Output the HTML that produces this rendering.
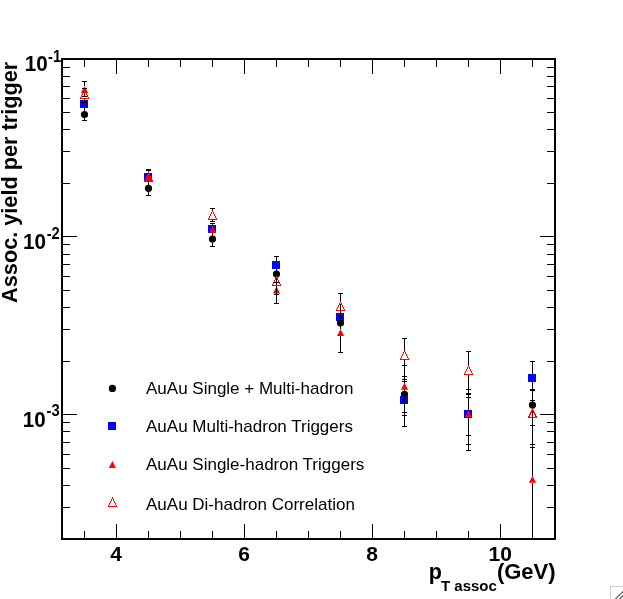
<!DOCTYPE html>
<html><head><meta charset="utf-8"><title>plot</title>
<style>html,body{margin:0;padding:0;background:#fff;}body{width:623px;height:599px;overflow:hidden;}svg{display:block;will-change:transform;opacity:0.999;}text{font-family:"Liberation Sans",sans-serif;fill:#000;}.b{font-weight:bold;}</style></head><body>
<svg width="623" height="599" viewBox="0 0 623 599">
<rect x="0" y="0" width="623" height="599" fill="#fff"/>
<g stroke="#000" stroke-width="1" shape-rendering="crispEdges" fill="none">
<line x1="84.5" y1="531" x2="84.5" y2="538"/>
<line x1="84.5" y1="60" x2="84.5" y2="67"/>
<line x1="116.5" y1="524" x2="116.5" y2="538"/>
<line x1="116.5" y1="60" x2="116.5" y2="74"/>
<line x1="148.5" y1="531" x2="148.5" y2="538"/>
<line x1="148.5" y1="60" x2="148.5" y2="67"/>
<line x1="180.5" y1="531" x2="180.5" y2="538"/>
<line x1="180.5" y1="60" x2="180.5" y2="67"/>
<line x1="212.5" y1="531" x2="212.5" y2="538"/>
<line x1="212.5" y1="60" x2="212.5" y2="67"/>
<line x1="244.5" y1="524" x2="244.5" y2="538"/>
<line x1="244.5" y1="60" x2="244.5" y2="74"/>
<line x1="276.5" y1="531" x2="276.5" y2="538"/>
<line x1="276.5" y1="60" x2="276.5" y2="67"/>
<line x1="308.5" y1="531" x2="308.5" y2="538"/>
<line x1="308.5" y1="60" x2="308.5" y2="67"/>
<line x1="340.5" y1="531" x2="340.5" y2="538"/>
<line x1="340.5" y1="60" x2="340.5" y2="67"/>
<line x1="372.5" y1="524" x2="372.5" y2="538"/>
<line x1="372.5" y1="60" x2="372.5" y2="74"/>
<line x1="404.5" y1="531" x2="404.5" y2="538"/>
<line x1="404.5" y1="60" x2="404.5" y2="67"/>
<line x1="436.5" y1="531" x2="436.5" y2="538"/>
<line x1="436.5" y1="60" x2="436.5" y2="67"/>
<line x1="468.5" y1="531" x2="468.5" y2="538"/>
<line x1="468.5" y1="60" x2="468.5" y2="67"/>
<line x1="500.5" y1="524" x2="500.5" y2="538"/>
<line x1="500.5" y1="60" x2="500.5" y2="74"/>
<line x1="532.5" y1="531" x2="532.5" y2="538"/>
<line x1="532.5" y1="60" x2="532.5" y2="67"/>
<line x1="63" y1="507.5" x2="70" y2="507.5"/>
<line x1="547" y1="507.5" x2="554" y2="507.5"/>
<line x1="63" y1="485.5" x2="70" y2="485.5"/>
<line x1="547" y1="485.5" x2="554" y2="485.5"/>
<line x1="63" y1="468.5" x2="70" y2="468.5"/>
<line x1="547" y1="468.5" x2="554" y2="468.5"/>
<line x1="63" y1="454.5" x2="70" y2="454.5"/>
<line x1="547" y1="454.5" x2="554" y2="454.5"/>
<line x1="63" y1="442.5" x2="70" y2="442.5"/>
<line x1="547" y1="442.5" x2="554" y2="442.5"/>
<line x1="63" y1="431.5" x2="70" y2="431.5"/>
<line x1="547" y1="431.5" x2="554" y2="431.5"/>
<line x1="63" y1="422.5" x2="70" y2="422.5"/>
<line x1="547" y1="422.5" x2="554" y2="422.5"/>
<line x1="63" y1="414.5" x2="77" y2="414.5"/>
<line x1="540" y1="414.5" x2="554" y2="414.5"/>
<line x1="63" y1="361.5" x2="70" y2="361.5"/>
<line x1="547" y1="361.5" x2="554" y2="361.5"/>
<line x1="63" y1="329.5" x2="70" y2="329.5"/>
<line x1="547" y1="329.5" x2="554" y2="329.5"/>
<line x1="63" y1="307.5" x2="70" y2="307.5"/>
<line x1="547" y1="307.5" x2="554" y2="307.5"/>
<line x1="63" y1="290.5" x2="70" y2="290.5"/>
<line x1="547" y1="290.5" x2="554" y2="290.5"/>
<line x1="63" y1="276.5" x2="70" y2="276.5"/>
<line x1="547" y1="276.5" x2="554" y2="276.5"/>
<line x1="63" y1="264.5" x2="70" y2="264.5"/>
<line x1="547" y1="264.5" x2="554" y2="264.5"/>
<line x1="63" y1="254.5" x2="70" y2="254.5"/>
<line x1="547" y1="254.5" x2="554" y2="254.5"/>
<line x1="63" y1="244.5" x2="70" y2="244.5"/>
<line x1="547" y1="244.5" x2="554" y2="244.5"/>
<line x1="63" y1="236.5" x2="77" y2="236.5"/>
<line x1="540" y1="236.5" x2="554" y2="236.5"/>
<line x1="63" y1="183.5" x2="70" y2="183.5"/>
<line x1="547" y1="183.5" x2="554" y2="183.5"/>
<line x1="63" y1="151.5" x2="70" y2="151.5"/>
<line x1="547" y1="151.5" x2="554" y2="151.5"/>
<line x1="63" y1="129.5" x2="70" y2="129.5"/>
<line x1="547" y1="129.5" x2="554" y2="129.5"/>
<line x1="63" y1="112.5" x2="70" y2="112.5"/>
<line x1="547" y1="112.5" x2="554" y2="112.5"/>
<line x1="63" y1="98.5" x2="70" y2="98.5"/>
<line x1="547" y1="98.5" x2="554" y2="98.5"/>
<line x1="63" y1="86.5" x2="70" y2="86.5"/>
<line x1="547" y1="86.5" x2="554" y2="86.5"/>
<line x1="63" y1="76.5" x2="70" y2="76.5"/>
<line x1="547" y1="76.5" x2="554" y2="76.5"/>
<line x1="63" y1="67.5" x2="70" y2="67.5"/>
<line x1="547" y1="67.5" x2="554" y2="67.5"/>
</g>
<rect x="62" y="59" width="493" height="480" fill="none" stroke="#000" stroke-width="2" shape-rendering="crispEdges"/>
<g stroke="#000" stroke-width="1" shape-rendering="crispEdges">
<line x1="84.5" y1="107.5" x2="84.5" y2="110.9"/>
<line x1="82" y1="107.5" x2="87" y2="107.5"/>
<line x1="84.5" y1="118.1" x2="84.5" y2="120.5"/>
<line x1="82" y1="120.5" x2="87" y2="120.5"/>
</g>
<circle cx="84.5" cy="114.5" r="3.6" fill="#000"/>
<g stroke="#000" stroke-width="1" shape-rendering="crispEdges">
<line x1="148.5" y1="181.5" x2="148.5" y2="184.7"/>
<line x1="146" y1="181.5" x2="151" y2="181.5"/>
<line x1="148.5" y1="191.9" x2="148.5" y2="195.5"/>
<line x1="146" y1="195.5" x2="151" y2="195.5"/>
</g>
<circle cx="148.5" cy="188.3" r="3.6" fill="#000"/>
<g stroke="#000" stroke-width="1" shape-rendering="crispEdges">
<line x1="212.5" y1="232.5" x2="212.5" y2="235.5"/>
<line x1="210" y1="232.5" x2="215" y2="232.5"/>
<line x1="212.5" y1="242.7" x2="212.5" y2="246.5"/>
<line x1="210" y1="246.5" x2="215" y2="246.5"/>
</g>
<circle cx="212.5" cy="239.1" r="3.6" fill="#000"/>
<g stroke="#000" stroke-width="1" shape-rendering="crispEdges">
<line x1="276.5" y1="268.5" x2="276.5" y2="270.5"/>
<line x1="274" y1="268.5" x2="279" y2="268.5"/>
<line x1="276.5" y1="277.7" x2="276.5" y2="282.5"/>
<line x1="274" y1="282.5" x2="279" y2="282.5"/>
</g>
<circle cx="276.5" cy="274.1" r="3.6" fill="#000"/>
<g stroke="#000" stroke-width="1" shape-rendering="crispEdges">
</g>
<circle cx="340.5" cy="323" r="3.6" fill="#000"/>
<g stroke="#000" stroke-width="1" shape-rendering="crispEdges">
<line x1="404.5" y1="379.5" x2="404.5" y2="390.7"/>
<line x1="402" y1="379.5" x2="407" y2="379.5"/>
<line x1="404.5" y1="397.9" x2="404.5" y2="412.5"/>
<line x1="402" y1="412.5" x2="407" y2="412.5"/>
</g>
<circle cx="404.5" cy="394.3" r="3.6" fill="#000"/>
<g stroke="#000" stroke-width="1" shape-rendering="crispEdges">
<line x1="468.5" y1="397.5" x2="468.5" y2="410.4"/>
<line x1="466" y1="397.5" x2="471" y2="397.5"/>
<line x1="468.5" y1="417.6" x2="468.5" y2="435.5"/>
<line x1="466" y1="435.5" x2="471" y2="435.5"/>
</g>
<circle cx="468.5" cy="414" r="3.6" fill="#000"/>
<g stroke="#000" stroke-width="1" shape-rendering="crispEdges">
<line x1="532.5" y1="390.5" x2="532.5" y2="401.5"/>
<line x1="530" y1="390.5" x2="535" y2="390.5"/>
<line x1="532.5" y1="408.7" x2="532.5" y2="425.5"/>
<line x1="530" y1="425.5" x2="535" y2="425.5"/>
</g>
<circle cx="532.5" cy="405.1" r="3.6" fill="#000"/>
<g stroke="#000" stroke-width="1" shape-rendering="crispEdges">
<line x1="84.5" y1="98.5" x2="84.5" y2="100"/>
<line x1="82" y1="98.5" x2="87" y2="98.5"/>
</g>
<rect x="80" y="100" width="8" height="8" fill="#0000ff" shape-rendering="crispEdges"/>
<g stroke="#000" stroke-width="1" shape-rendering="crispEdges">
<line x1="148.5" y1="170.5" x2="148.5" y2="173"/>
<line x1="146" y1="170.5" x2="151" y2="170.5"/>
</g>
<rect x="144" y="173" width="8" height="8" fill="#0000ff" shape-rendering="crispEdges"/>
<g stroke="#000" stroke-width="1" shape-rendering="crispEdges">
<line x1="212.5" y1="223.5" x2="212.5" y2="225"/>
<line x1="210" y1="223.5" x2="215" y2="223.5"/>
</g>
<rect x="208" y="225" width="8" height="8" fill="#0000ff" shape-rendering="crispEdges"/>
<g stroke="#000" stroke-width="1" shape-rendering="crispEdges">
<line x1="276.5" y1="256.5" x2="276.5" y2="261"/>
<line x1="274" y1="256.5" x2="279" y2="256.5"/>
</g>
<rect x="272" y="261" width="8" height="8" fill="#0000ff" shape-rendering="crispEdges"/>
<g stroke="#000" stroke-width="1" shape-rendering="crispEdges">
<line x1="340.5" y1="303.5" x2="340.5" y2="313"/>
</g>
<rect x="336" y="313" width="8" height="8" fill="#0000ff" shape-rendering="crispEdges"/>
<g stroke="#000" stroke-width="1" shape-rendering="crispEdges">
<line x1="404.5" y1="381.5" x2="404.5" y2="395.7"/>
<line x1="402" y1="381.5" x2="407" y2="381.5"/>
<line x1="404.5" y1="403.7" x2="404.5" y2="426.5"/>
<line x1="402" y1="426.5" x2="407" y2="426.5"/>
</g>
<rect x="400" y="396" width="8" height="8" fill="#0000ff" shape-rendering="crispEdges"/>
<g stroke="#000" stroke-width="1" shape-rendering="crispEdges">
<line x1="468.5" y1="393.5" x2="468.5" y2="409.7"/>
<line x1="466" y1="393.5" x2="471" y2="393.5"/>
<line x1="468.5" y1="417.7" x2="468.5" y2="444.5"/>
<line x1="466" y1="444.5" x2="471" y2="444.5"/>
</g>
<rect x="464" y="410" width="8" height="8" fill="#0000ff" shape-rendering="crispEdges"/>
<g stroke="#000" stroke-width="1" shape-rendering="crispEdges">
<line x1="532.5" y1="361.5" x2="532.5" y2="374"/>
<line x1="530" y1="361.5" x2="535" y2="361.5"/>
<line x1="532.5" y1="382" x2="532.5" y2="400.5"/>
<line x1="530" y1="400.5" x2="535" y2="400.5"/>
</g>
<rect x="528" y="374" width="8" height="8" fill="#0000ff" shape-rendering="crispEdges"/>
<g stroke="#000" stroke-width="1" shape-rendering="crispEdges">
<line x1="84.5" y1="81.5" x2="84.5" y2="86.2"/>
<line x1="82" y1="81.5" x2="87" y2="81.5"/>
<line x1="84.5" y1="92.8" x2="84.5" y2="96.5"/>
<line x1="82" y1="96.5" x2="87" y2="96.5"/>
</g>
<path d="M80.9 92.9 L88.1 92.9 L84.5 85.9 Z" fill="#ff0000"/>
<g stroke="#000" stroke-width="1" shape-rendering="crispEdges">
<line x1="148.5" y1="169.5" x2="148.5" y2="174"/>
<line x1="146" y1="169.5" x2="151" y2="169.5"/>
</g>
<path d="M144.9 180.7 L152.1 180.7 L148.5 173.7 Z" fill="#ff0000"/>
<g stroke="#000" stroke-width="1" shape-rendering="crispEdges">
<line x1="212.5" y1="223.5" x2="212.5" y2="226"/>
<line x1="210" y1="223.5" x2="215" y2="223.5"/>
</g>
<path d="M208.9 232.7 L216.1 232.7 L212.5 225.7 Z" fill="#ff0000"/>
<g stroke="#000" stroke-width="1" shape-rendering="crispEdges">
<line x1="276.5" y1="282.5" x2="276.5" y2="286.7"/>
<line x1="274" y1="282.5" x2="279" y2="282.5"/>
<line x1="276.5" y1="293.3" x2="276.5" y2="294.5"/>
<line x1="274" y1="294.5" x2="279" y2="294.5"/>
</g>
<path d="M272.9 293.4 L280.1 293.4 L276.5 286.4 Z" fill="#ff0000"/>
<g stroke="#000" stroke-width="1" shape-rendering="crispEdges">
<line x1="340.5" y1="317.5" x2="340.5" y2="329.3"/>
<line x1="338" y1="317.5" x2="343" y2="317.5"/>
<line x1="340.5" y1="335.9" x2="340.5" y2="352.5"/>
<line x1="338" y1="352.5" x2="343" y2="352.5"/>
</g>
<path d="M336.9 336 L344.1 336 L340.5 329 Z" fill="#ff0000"/>
<g stroke="#000" stroke-width="1" shape-rendering="crispEdges">
<line x1="404.5" y1="365.5" x2="404.5" y2="383.1"/>
<line x1="402" y1="365.5" x2="407" y2="365.5"/>
<line x1="404.5" y1="389.7" x2="404.5" y2="415.5"/>
<line x1="402" y1="415.5" x2="407" y2="415.5"/>
</g>
<path d="M400.9 389.8 L408.1 389.8 L404.5 382.8 Z" fill="#ff0000"/>
<g stroke="#000" stroke-width="1" shape-rendering="crispEdges">
<line x1="468.5" y1="389.5" x2="468.5" y2="410.2"/>
<line x1="466" y1="389.5" x2="471" y2="389.5"/>
<line x1="468.5" y1="416.8" x2="468.5" y2="450.5"/>
<line x1="466" y1="450.5" x2="471" y2="450.5"/>
</g>
<path d="M464.9 416.9 L472.1 416.9 L468.5 409.9 Z" fill="#ff0000"/>
<g stroke="#000" stroke-width="1" shape-rendering="crispEdges">
<line x1="532.5" y1="444.5" x2="532.5" y2="476.1"/>
<line x1="530" y1="444.5" x2="535" y2="444.5"/>
<line x1="532.5" y1="482.7" x2="532.5" y2="538.5"/>
</g>
<path d="M528.9 482.8 L536.1 482.8 L532.5 475.8 Z" fill="#ff0000"/>
<g stroke="#000" stroke-width="1" shape-rendering="crispEdges">
<line x1="84.5" y1="88.5" x2="84.5" y2="90.3"/>
<line x1="82" y1="88.5" x2="87" y2="88.5"/>
<line x1="84.5" y1="98.7" x2="84.5" y2="102.5"/>
<line x1="82" y1="102.5" x2="87" y2="102.5"/>
</g>
<path d="M80.3 98.7 L88.7 98.7 L84.5 90.3 Z" fill="none" stroke="#ff0000" stroke-width="1" shape-rendering="crispEdges"/>
<g stroke="#000" stroke-width="1" shape-rendering="crispEdges">
</g>
<path d="M144.3 181.5 L152.7 181.5 L148.5 173.1 Z" fill="none" stroke="#ff0000" stroke-width="1" shape-rendering="crispEdges"/>
<g stroke="#000" stroke-width="1" shape-rendering="crispEdges">
<line x1="212.5" y1="208.5" x2="212.5" y2="210.8"/>
<line x1="210" y1="208.5" x2="215" y2="208.5"/>
<line x1="212.5" y1="219.2" x2="212.5" y2="221.5"/>
<line x1="210" y1="221.5" x2="215" y2="221.5"/>
</g>
<path d="M208.3 219.2 L216.7 219.2 L212.5 210.8 Z" fill="none" stroke="#ff0000" stroke-width="1" shape-rendering="crispEdges"/>
<g stroke="#000" stroke-width="1" shape-rendering="crispEdges">
<line x1="276.5" y1="285.7" x2="276.5" y2="303.5"/>
<line x1="274" y1="303.5" x2="279" y2="303.5"/>
</g>
<path d="M272.3 285.7 L280.7 285.7 L276.5 277.3 Z" fill="none" stroke="#ff0000" stroke-width="1" shape-rendering="crispEdges"/>
<g stroke="#000" stroke-width="1" shape-rendering="crispEdges">
<line x1="340.5" y1="293.5" x2="340.5" y2="302.2"/>
<line x1="338" y1="293.5" x2="343" y2="293.5"/>
<line x1="340.5" y1="310.6" x2="340.5" y2="320.5"/>
<line x1="338" y1="320.5" x2="343" y2="320.5"/>
</g>
<path d="M336.3 310.6 L344.7 310.6 L340.5 302.2 Z" fill="none" stroke="#ff0000" stroke-width="1" shape-rendering="crispEdges"/>
<g stroke="#000" stroke-width="1" shape-rendering="crispEdges">
<line x1="404.5" y1="338.5" x2="404.5" y2="351.1"/>
<line x1="402" y1="338.5" x2="407" y2="338.5"/>
<line x1="404.5" y1="359.5" x2="404.5" y2="376.5"/>
<line x1="402" y1="376.5" x2="407" y2="376.5"/>
</g>
<path d="M400.3 359.5 L408.7 359.5 L404.5 351.1 Z" fill="none" stroke="#ff0000" stroke-width="1" shape-rendering="crispEdges"/>
<g stroke="#000" stroke-width="1" shape-rendering="crispEdges">
<line x1="468.5" y1="351.5" x2="468.5" y2="366.1"/>
<line x1="466" y1="351.5" x2="471" y2="351.5"/>
<line x1="468.5" y1="374.5" x2="468.5" y2="394.5"/>
<line x1="466" y1="394.5" x2="471" y2="394.5"/>
</g>
<path d="M464.3 374.5 L472.7 374.5 L468.5 366.1 Z" fill="none" stroke="#ff0000" stroke-width="1" shape-rendering="crispEdges"/>
<g stroke="#000" stroke-width="1" shape-rendering="crispEdges">
<line x1="532.5" y1="389.5" x2="532.5" y2="409.5"/>
<line x1="530" y1="389.5" x2="535" y2="389.5"/>
<line x1="532.5" y1="417.9" x2="532.5" y2="447.5"/>
<line x1="530" y1="447.5" x2="535" y2="447.5"/>
</g>
<path d="M528.3 417.9 L536.7 417.9 L532.5 409.5 Z" fill="none" stroke="#ff0000" stroke-width="1" shape-rendering="crispEdges"/>
<circle cx="112.4" cy="388.4" r="3.6" fill="#000"/>
<rect x="108" y="422" width="8" height="8" fill="#0000ff" shape-rendering="crispEdges"/>
<path d="M108.8 468 L116 468 L112.4 461 Z" fill="#ff0000"/>
<path d="M108.2 506.4 L116.6 506.4 L112.4 498 Z" fill="none" stroke="#ff0000" stroke-width="1" shape-rendering="crispEdges"/>
<text x="146" y="394" font-size="17">AuAu Single + Multi-hadron</text>
<text x="146" y="432.2" font-size="17">AuAu Multi-hadron Triggers</text>
<text x="146" y="470.2" font-size="17">AuAu Single-hadron Triggers</text>
<text x="146" y="510.2" font-size="17">AuAu Di-hadron Correlation</text>
<text class="b" transform="translate(47.8,71.4) scale(0.93,1)" font-size="22.2" text-anchor="end">10</text>
<text class="b" transform="translate(48.1,61.5) scale(0.94,1)" font-size="15.7">-1</text>
<text class="b" transform="translate(46,248.9) scale(0.93,1)" font-size="22.2" text-anchor="end">10</text>
<text class="b" transform="translate(46.7,238.6) scale(0.94,1)" font-size="15.7">-2</text>
<text class="b" transform="translate(45.7,426.9) scale(0.93,1)" font-size="22.2" text-anchor="end">10</text>
<text class="b" transform="translate(46.6,416.1) scale(0.94,1)" font-size="15.7">-3</text>
<text class="b" x="116.2" y="560.5" font-size="21" text-anchor="middle">4</text>
<text class="b" x="244.2" y="560.5" font-size="21" text-anchor="middle">6</text>
<text class="b" x="372.2" y="560.5" font-size="21" text-anchor="middle">8</text>
<text class="b" x="500.2" y="560.5" font-size="21" text-anchor="middle">10</text>
<text class="b" x="428.8" y="578.7" font-size="21.5">p</text>
<text class="b" x="441.0" y="590.6" font-size="15">T assoc</text>
<text class="b" x="496.9" y="578.9" font-size="22">(GeV)</text>
<text class="b" transform="translate(17.0,302.9) rotate(-90)" font-size="21.7">Assoc. yield per trigger</text>
<g shape-rendering="crispEdges"><path d="M610.5 599 V586.5 H623" fill="none" stroke="#d0d0d0" stroke-width="1"/></g>
<g stroke="#555" stroke-width="1.2"><line x1="615" y1="599.5" x2="623.5" y2="591"/><line x1="619.2" y1="599.5" x2="623.5" y2="595.2"/></g>
</svg></body></html>
